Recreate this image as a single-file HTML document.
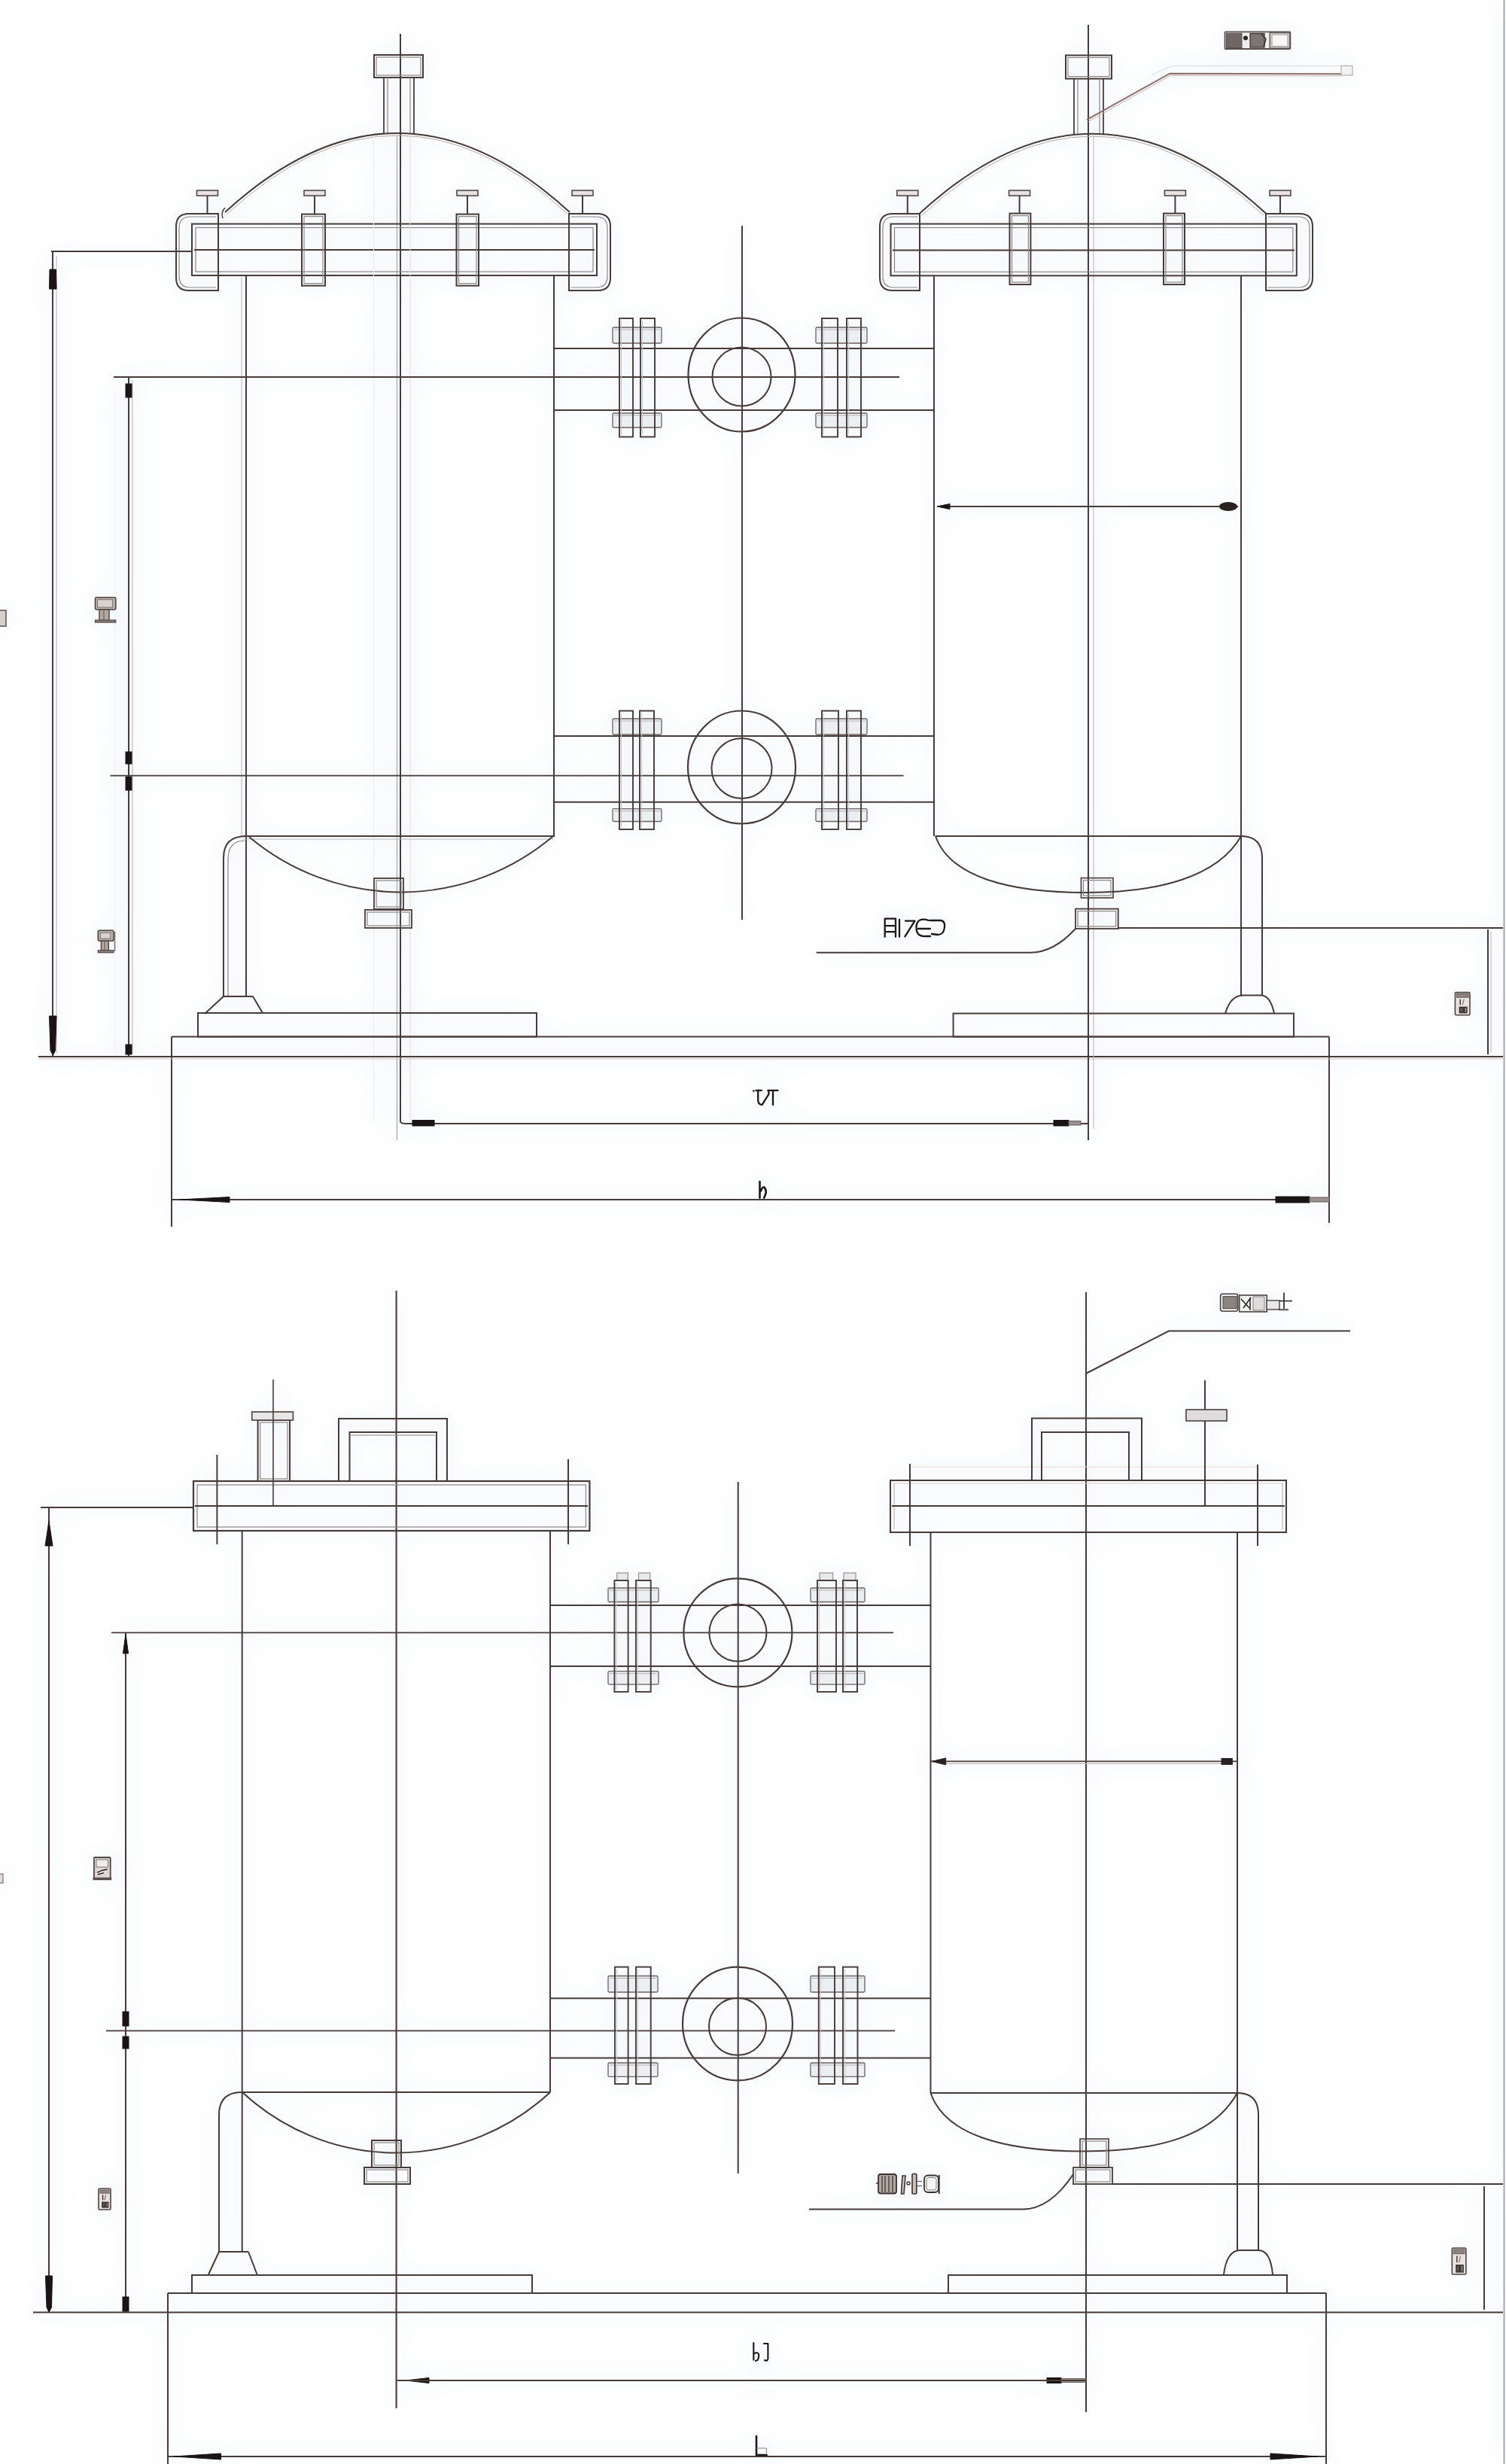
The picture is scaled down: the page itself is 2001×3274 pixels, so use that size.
<!DOCTYPE html>
<html><head><meta charset="utf-8"><title>Twin filter tanks drawing</title>
<style>
html,body{margin:0;padding:0;background:#ffffff;}
svg{display:block;}
</style></head>
<body>
<svg width="2001" height="3274" viewBox="0 0 2001 3274">
<rect x="0" y="0" width="2001" height="3274" fill="#ffffff"/>
<defs><filter id="glow" x="-5%" y="-5%" width="110%" height="110%"><feGaussianBlur stdDeviation="14"/></filter></defs>
<g filter="url(#glow)" opacity="0.11" stroke="#a9c2d6" stroke-width="14"><line x1="1998.5" y1="0" x2="1998.5" y2="3274" />
<line x1="532" y1="45" x2="532" y2="1490" />
<line x1="527.5" y1="180" x2="527.5" y2="1515" />
<path d="M532 1490 Q532 1493 540 1493" fill="none" />
<line x1="540" y1="1493" x2="1446" y2="1493" />
<rect x="497" y="73" width="65" height="30" rx="0" fill="none"/>
<rect x="500" y="76" width="59" height="24" rx="0" fill="none"/>
<line x1="510" y1="103" x2="510" y2="178" />
<line x1="550" y1="103" x2="550" y2="178" />
<line x1="515" y1="103" x2="515" y2="178" />
<line x1="545" y1="103" x2="545" y2="178" />
<path d="M299 282 Q528 72 757 282" fill="none" />
<path d="M302 284 Q528 76 754 284" fill="none" />
<path d="M296 290 Q293 282 299 276" fill="none" />
<rect x="255" y="297.5" width="538" height="68.5" rx="0" fill="none"/>
<rect x="260" y="302.5" width="528" height="58.5" rx="0" fill="none"/>
<line x1="258" y1="332" x2="790" y2="332" />
<path d="M290 284 L251 284 Q234 284 234 301 L234 369 Q234 386 251 386 L290 386 Z" fill="none" />
<path d="M287 288 L253 288 Q238 288 238 303 L238 367 Q238 382 253 382 L287 382" fill="none" />
<path d="M756 284 L794 284 Q811 284 811 301 L811 369 Q811 386 794 386 L756 386 Z" fill="none" />
<path d="M759 288 L792 288 Q807 288 807 303 L807 367 Q807 382 792 382 L759 382" fill="none" />
<rect x="261.5" y="253" width="28.0" height="7" rx="0" fill="#a9c2d6"/>
<line x1="275.5" y1="260" x2="275.5" y2="284" />
<rect x="404" y="253" width="28" height="7" rx="0" fill="#a9c2d6"/>
<line x1="418" y1="260" x2="418" y2="284" />
<rect x="607" y="253" width="28" height="7" rx="0" fill="#a9c2d6"/>
<line x1="621" y1="260" x2="621" y2="284" />
<rect x="760" y="253" width="28" height="7" rx="0" fill="#a9c2d6"/>
<line x1="774" y1="260" x2="774" y2="284" />
<rect x="401" y="284.6" width="31" height="95.0" rx="0" fill="none"/>
<rect x="404" y="287.6" width="25" height="89.0" rx="0" fill="none"/>
<rect x="606.5" y="284.6" width="29.5" height="95.0" rx="0" fill="none"/>
<rect x="609.5" y="287.6" width="23.5" height="89.0" rx="0" fill="none"/>
<line x1="327" y1="366" x2="327" y2="1324" />
<line x1="736" y1="366" x2="736" y2="1111" />
<line x1="321" y1="368" x2="321" y2="1111" />
<line x1="496.5" y1="180" x2="496.5" y2="1490" />
<line x1="545" y1="180" x2="545" y2="1490" />
<line x1="153" y1="520" x2="153" y2="1400" />
<line x1="323" y1="1111" x2="737" y2="1111" />
<line x1="323" y1="1115" x2="735" y2="1115" />
<path d="M331 1112 A313 313 0 0 0 735 1111" fill="none" />
<rect x="497" y="1167" width="39" height="41" rx="0" fill="none"/>
<rect x="500" y="1170" width="33" height="35" rx="0" fill="none"/>
<rect x="485" y="1209" width="62" height="24" rx="0" fill="none"/>
<rect x="488" y="1212" width="56" height="18" rx="0" fill="none"/>
<path d="M327 1111 Q297 1111 297 1140 L297 1324" fill="none" />
<path d="M325 1117 Q303 1117 303 1142 L303 1324" fill="none" />
<path d="M297 1324 L272 1347 M336 1324 L349 1346 M297 1324 L336 1324" fill="none" />
<rect x="263" y="1346" width="450" height="31.5" rx="0" fill="none"/>
<line x1="228" y1="1377.5" x2="1766" y2="1377.5" />
<line x1="228" y1="1377.5" x2="228" y2="1630" />
<line x1="1766" y1="1377.5" x2="1766" y2="1625" />
<line x1="51" y1="1404" x2="1997" y2="1404" />
<line x1="51" y1="1407" x2="1997" y2="1407" />
<line x1="68" y1="334" x2="255" y2="334" />
<line x1="70" y1="334" x2="70" y2="1403" />
<line x1="75" y1="340" x2="75" y2="1400" />
<path d="M65.5 1350 L75 1350 L73.5 1396 L70.5 1402 L67 1396 Z" fill="#a9c2d6" />
<path d="M66 358 L74.5 358 L75 384 L65.5 384 Z" fill="#a9c2d6" />
<line x1="171" y1="501" x2="171" y2="1403" />
<line x1="176" y1="505" x2="176" y2="1400" />
<rect x="167" y="510" width="8" height="18" rx="0" fill="#a9c2d6"/>
<rect x="167" y="999" width="8" height="16" rx="0" fill="#a9c2d6"/>
<rect x="167" y="1032" width="8" height="18" rx="0" fill="#a9c2d6"/>
<rect x="167" y="1388" width="8" height="13" rx="0" fill="#a9c2d6"/>
<rect x="126.5" y="793.7" width="27.30000000000001" height="16.299999999999955" rx="2" fill="#a9c2d6"/>
<rect x="129.5" y="796.7" width="20.30000000000001" height="10.299999999999955" rx="0" fill="#a9c2d6"/>
<rect x="131.96" y="810" width="13.104000000000013" height="14.5" rx="0" fill="#a9c2d6"/>
<line x1="137.966" y1="811" x2="137.966" y2="824" />
<rect x="126.5" y="824" width="27.30000000000001" height="3" rx="0" fill="#a9c2d6"/>
<rect x="130.3" y="1236.3" width="20.599999999999994" height="14.0" rx="2" fill="#a9c2d6"/>
<rect x="133.3" y="1239.3" width="13.599999999999994" height="8.0" rx="0" fill="#a9c2d6"/>
<rect x="134.42000000000002" y="1250.3" width="9.888000000000005" height="13.0" rx="0" fill="#a9c2d6"/>
<line x1="138.952" y1="1251.3" x2="138.952" y2="1262.8" />
<rect x="130.3" y="1262.8" width="20.599999999999994" height="3.0" rx="0" fill="#a9c2d6"/>
<line x1="152.5" y1="1238" x2="152.5" y2="1264" />
<rect x="-2" y="811" width="10" height="21" rx="0" fill="#a9c2d6"/>
<line x1="1446" y1="33" x2="1446" y2="1515" />
<line x1="1453" y1="180" x2="1453" y2="1500" />
<rect x="1416" y="73.5" width="61" height="31.099999999999994" rx="0" fill="none"/>
<rect x="1419" y="76.5" width="55" height="25.099999999999994" rx="0" fill="none"/>
<line x1="1427" y1="104.6" x2="1427" y2="178" />
<line x1="1466" y1="104.6" x2="1466" y2="178" />
<line x1="1432" y1="104.6" x2="1432" y2="178" />
<line x1="1461" y1="104.6" x2="1461" y2="178" />
<path d="M1222 283.6 Q1452 72 1682 283.6" fill="none" />
<path d="M1225 286 Q1452 76 1679 286" fill="none" />
<rect x="1183.5" y="297.5" width="539.3" height="68.80000000000001" rx="0" fill="none"/>
<rect x="1188.5" y="302.5" width="529.3" height="58.80000000000001" rx="0" fill="none"/>
<line x1="1186" y1="332.4" x2="1720" y2="332.4" />
<path d="M1222 284 L1186 284 Q1169 284 1169 301 L1169 369 Q1169 386 1186 386 L1222 386 Z" fill="none" />
<path d="M1219 288 L1188 288 Q1173 288 1173 303 L1173 367 Q1173 382 1188 382 L1219 382" fill="none" />
<path d="M1682 284 L1727 284 Q1744 284 1744 301 L1744 369 Q1744 386 1727 386 L1682 386 Z" fill="none" />
<path d="M1685 288 L1725 288 Q1740 288 1740 303 L1740 367 Q1740 382 1725 382 L1685 382" fill="none" />
<rect x="1191.8" y="253" width="28.0" height="7" rx="0" fill="#a9c2d6"/>
<line x1="1205.8" y1="260" x2="1205.8" y2="284" />
<rect x="1340.6" y="253" width="28.0" height="7" rx="0" fill="#a9c2d6"/>
<line x1="1354.6" y1="260" x2="1354.6" y2="284" />
<rect x="1547.4" y="253" width="28.0" height="7" rx="0" fill="#a9c2d6"/>
<line x1="1561.4" y1="260" x2="1561.4" y2="284" />
<rect x="1687" y="253" width="28" height="7" rx="0" fill="#a9c2d6"/>
<line x1="1701" y1="260" x2="1701" y2="284" />
<rect x="1341.5" y="283.6" width="27.90000000000009" height="94.39999999999998" rx="0" fill="none"/>
<rect x="1344.5" y="286.6" width="21.90000000000009" height="88.39999999999998" rx="0" fill="none"/>
<rect x="1546" y="283.6" width="28" height="94.39999999999998" rx="0" fill="none"/>
<rect x="1549" y="286.6" width="22" height="88.39999999999998" rx="0" fill="none"/>
<line x1="1241" y1="366" x2="1241" y2="1111" />
<line x1="1649" y1="366" x2="1649" y2="1324" />
<line x1="1243" y1="1111" x2="1649" y2="1111" />
<path d="M1243 1111 C1262 1165 1340 1186 1443 1186 C1540 1186 1618 1165 1649 1111" fill="none" />
<rect x="1436.5" y="1166.6" width="42.5" height="26.40000000000009" rx="0" fill="none"/>
<rect x="1439.5" y="1169.6" width="36.5" height="20.40000000000009" rx="0" fill="none"/>
<rect x="1429" y="1207.6" width="56.700000000000045" height="26.40000000000009" rx="0" fill="none"/>
<rect x="1432" y="1210.6" width="50.700000000000045" height="20.40000000000009" rx="0" fill="none"/>
<path d="M1649 1111 Q1677 1111 1677 1140 L1677 1322.6" fill="none" />
<path d="M1628 1346.6 Q1635 1322.6 1652 1322.6 L1675 1322.6 Q1688 1322.6 1693 1346.6" fill="none" />
<rect x="1266.6" y="1346.6" width="452.4000000000001" height="30.90000000000009" rx="0" fill="none"/>
<line x1="1245" y1="673" x2="1645" y2="673" />
<path d="M1262 669.5 L1262 676.5 L1245 673 Z" fill="#a9c2d6" />
<ellipse cx="1632" cy="673" rx="12" ry="6" fill="#a9c2d6"/>
<path d="M1084.7 1265.7 L1369 1265.7 Q1400 1265.7 1429 1234" fill="none" />
<line x1="1486" y1="1233" x2="1997" y2="1233" />
<line x1="1977" y1="1235" x2="1977" y2="1401" />
<line x1="1981" y1="1238" x2="1981" y2="1398" />
<rect x="1933.4" y="1318.6" width="19.59999999999991" height="30.200000000000045" rx="1.5" fill="#a9c2d6"/>
<rect x="1935.4" y="1320.6" width="15.599999999999909" height="4.6440000000000055" rx="0" fill="#a9c2d6"/>
<line x1="1940.26" y1="1327.6599999999999" x2="1940.26" y2="1335.21" />
<line x1="1945.16" y1="1327.6599999999999" x2="1943.2" y2="1335.21" />
<rect x="1939.28" y="1338.23" width="4.900000000000091" height="7.569999999999936" rx="0" fill="#a9c2d6"/>
<rect x="1945.5520000000001" y="1338.23" width="3.5279999999997926" height="7.569999999999936" rx="0" fill="#a9c2d6"/>
<path d="M1175.7 1244.8 L1175.7 1220.7 L1190 1220.7 L1190 1244.8 M1177 1230.2 L1189 1230.2 M1177 1238.2 L1189 1238.2 M1195 1222 L1195 1244.8 M1203 1223.6 L1215.5 1223.6 L1202.4 1244.4 M1234 1223 Q1219 1218 1217.5 1231 Q1217 1245 1230 1244 L1236 1244 M1220 1234 L1236 1234 M1236 1223 L1250 1223 Q1256 1224 1255 1232 Q1254 1242 1246 1242 L1238 1241" fill="none" stroke-linecap="round" stroke-linejoin="round"/>
<path d="M1444 159.2 L1554.2 97.7 L1782 98.2" fill="none" />
<path d="M1446 161.5 L1555 100.5 L1782 100.8" fill="none" />
<path d="M1530 100 L1557 87.5 L1782 87.5" fill="none" />
<rect x="1782" y="87.5" width="15" height="12.5" rx="0" fill="#a9c2d6"/>
<rect x="1627.5" y="42.4" width="86.90000000000009" height="22.6" rx="1" fill="#a9c2d6"/>
<rect x="1629.5" y="44.3" width="20.5" height="19.200000000000003" rx="0" fill="#a9c2d6"/>
<circle cx="1655" cy="50.5" r="3" fill="#a9c2d6"/>
<rect x="1661" y="44.5" width="19" height="18.5" rx="0" fill="#a9c2d6"/>
<path d="M1676 45 L1682 52 L1679 62" fill="none" />
<rect x="1687.3" y="43.5" width="26.299999999999955" height="20.5" rx="0" fill="#a9c2d6"/>
<rect x="1690" y="46" width="21" height="15.5" rx="0" fill="#a9c2d6"/>
<line x1="986" y1="300" x2="986" y2="1222" />
<line x1="737" y1="463" x2="1241" y2="463" />
<line x1="737" y1="545" x2="1241" y2="545" />
<line x1="151" y1="501" x2="1195" y2="501" />
<ellipse cx="985.5" cy="498" rx="71" ry="75.5" fill="none"/>
<ellipse cx="985.5" cy="500.5" rx="39" ry="39" fill="none"/>
<rect x="814" y="435" width="65" height="21" rx="1.5" fill="#a9c2d6"/>
<line x1="816" y1="438" x2="877" y2="438" />
<rect x="814" y="549" width="65" height="19" rx="1.5" fill="#a9c2d6"/>
<line x1="816" y1="552" x2="877" y2="552" />
<rect x="1084" y="435" width="68" height="21" rx="1.5" fill="#a9c2d6"/>
<line x1="1086" y1="438" x2="1150" y2="438" />
<rect x="1084" y="549" width="68" height="19" rx="1.5" fill="#a9c2d6"/>
<line x1="1086" y1="552" x2="1150" y2="552" />
<rect x="823" y="423" width="18" height="157.5" rx="0" fill="none"/>
<line x1="825.5" y1="426" x2="825.5" y2="577.5" />
<rect x="851" y="423" width="19" height="157.5" rx="0" fill="none"/>
<line x1="853.5" y1="426" x2="853.5" y2="577.5" />
<rect x="1092" y="423" width="21" height="157.5" rx="0" fill="none"/>
<line x1="1094.5" y1="426" x2="1094.5" y2="577.5" />
<rect x="1125" y="423" width="19" height="157.5" rx="0" fill="none"/>
<line x1="1127.5" y1="426" x2="1127.5" y2="577.5" />
<line x1="737" y1="978" x2="1241" y2="978" />
<line x1="737" y1="1065.7" x2="1241" y2="1065.7" />
<line x1="146.5" y1="1030.6" x2="1200.5" y2="1030.6" />
<ellipse cx="985.5" cy="1019.5" rx="71.5" ry="75" fill="none"/>
<ellipse cx="985.5" cy="1021" rx="40" ry="40" fill="none"/>
<rect x="814" y="955" width="65" height="21" rx="1.5" fill="#a9c2d6"/>
<line x1="816" y1="958" x2="877" y2="958" />
<rect x="814" y="1074.7" width="65" height="16.799999999999955" rx="1.5" fill="#a9c2d6"/>
<line x1="816" y1="1077.7" x2="877" y2="1077.7" />
<rect x="1084" y="955" width="68" height="21" rx="1.5" fill="#a9c2d6"/>
<line x1="1086" y1="958" x2="1150" y2="958" />
<rect x="1084" y="1074.7" width="68" height="16.799999999999955" rx="1.5" fill="#a9c2d6"/>
<line x1="1086" y1="1077.7" x2="1150" y2="1077.7" />
<rect x="823" y="944.5" width="18" height="157.5" rx="0" fill="none"/>
<line x1="825.5" y1="947.5" x2="825.5" y2="1099" />
<rect x="850" y="944.5" width="19" height="157.5" rx="0" fill="none"/>
<line x1="852.5" y1="947.5" x2="852.5" y2="1099" />
<rect x="1092" y="944.5" width="22" height="157.5" rx="0" fill="none"/>
<line x1="1094.5" y1="947.5" x2="1094.5" y2="1099" />
<rect x="1125" y="944.5" width="19" height="157.5" rx="0" fill="none"/>
<line x1="1127.5" y1="947.5" x2="1127.5" y2="1099" />
<line x1="1446" y1="1493" x2="1446" y2="1515" />
<rect x="548" y="1488.5" width="29" height="7.5" rx="0" fill="#a9c2d6"/>
<rect x="1400" y="1488.5" width="20" height="7.5" rx="0" fill="#a9c2d6"/>
<rect x="1420" y="1489.5" width="16" height="5.5" rx="0" fill="#a9c2d6"/>
<circle cx="1001.3" cy="1449.5" r="1.3" fill="#a9c2d6"/>
<path d="M1004.4 1448.8 L1011.9 1448.8 M1007.2 1448.8 L1007.2 1462 Q1007.5 1468 1012.6 1467.8 L1021.4 1454 L1021.4 1448.8 M1020.3 1448.8 L1033.6 1448.8 M1027 1448.8 L1027 1468" fill="none" stroke-linecap="round" stroke-linejoin="round"/>
<line x1="228" y1="1594" x2="1766" y2="1594" />
<path d="M305 1590.5 L305 1597.5 L239 1594 Z" fill="#a9c2d6" />
<rect x="1695" y="1590" width="45" height="8" rx="0" fill="#a9c2d6"/>
<rect x="1740" y="1591" width="26" height="6" rx="0" fill="#a9c2d6"/>
<path d="M1009.5 1570 L1009.5 1591.6 M1010.9 1582.6 Q1013 1577 1015 1577.3 Q1018.5 1580 1017.5 1586 L1015.2 1591.6" fill="none" stroke-linecap="round" stroke-linejoin="round"/>
<line x1="526.6" y1="1715" x2="526.6" y2="3200" />
<rect x="257" y="1968" width="526.4" height="66" rx="0" fill="none"/>
<rect x="262" y="1973" width="516.4" height="56" rx="0" fill="none"/>
<line x1="259" y1="2001" x2="781" y2="2001" />
<line x1="288.4" y1="1933" x2="288.4" y2="2052" />
<line x1="755" y1="1939" x2="755" y2="2052" />
<path d="M450 1968 L450 1885 L594 1885 L594 1968" fill="none" />
<path d="M464.5 1968 L464.5 1903 L580 1903 L580 1968" fill="none" />
<line x1="466" y1="1907" x2="578" y2="1907" />
<rect x="342.6" y="1887" width="42.39999999999998" height="81" rx="0" fill="none"/>
<rect x="345.6" y="1890" width="36.39999999999998" height="75" rx="0" fill="none"/>
<rect x="334.7" y="1876" width="54.69999999999999" height="11" rx="0" fill="#a9c2d6"/>
<line x1="363" y1="1833" x2="363" y2="2000" />
<line x1="321.7" y1="2034" x2="321.7" y2="2992" />
<line x1="731" y1="2034" x2="731" y2="2780" />
<line x1="321.7" y1="2780" x2="731" y2="2780" />
<path d="M322 2780 A300 300 0 0 0 731 2780" fill="none" />
<rect x="494" y="2844" width="39" height="36" rx="0" fill="none"/>
<rect x="497" y="2847" width="33" height="30" rx="0" fill="none"/>
<rect x="484" y="2880" width="61" height="22" rx="0" fill="none"/>
<rect x="487" y="2883" width="55" height="16" rx="0" fill="none"/>
<path d="M321.7 2780 Q291 2780 291 2810 L291 2992" fill="none" />
<path d="M291 2992 L277 3022 M341.5 3022 L330 2992 M291 2992 L330 2992" fill="none" />
<rect x="255" y="3023" width="452" height="24" rx="0" fill="none"/>
<line x1="223" y1="3047" x2="1762" y2="3047" />
<line x1="223" y1="3047" x2="223" y2="3274" />
<line x1="1762" y1="3047" x2="1762" y2="3274" />
<line x1="44" y1="3072.5" x2="1997" y2="3072.5" />
<line x1="54" y1="2003" x2="257" y2="2003" />
<line x1="65" y1="2003" x2="65" y2="3072" />
<path d="M60 2054 L70 2054 L65 2021 Z" fill="#a9c2d6" />
<path d="M60.5 3024 L69.5 3024 L68.5 3066 L65 3072 L62 3066 Z" fill="#a9c2d6" />
<line x1="167" y1="2169.4" x2="167" y2="3072" />
<path d="M163.5 2197 L170.5 2197 L167 2171 Z" fill="#a9c2d6" />
<rect x="163" y="2673" width="8" height="19" rx="0" fill="#a9c2d6"/>
<rect x="163" y="2706" width="8" height="16" rx="0" fill="#a9c2d6"/>
<rect x="163" y="3052" width="8" height="19" rx="0" fill="#a9c2d6"/>
<rect x="131" y="2908" width="16" height="28" rx="1.5" fill="#a9c2d6"/>
<rect x="133" y="2910" width="12" height="4.1599999999998545" rx="0" fill="#a9c2d6"/>
<line x1="136.6" y1="2916.4" x2="136.6" y2="2923.4" />
<line x1="140.6" y1="2916.4" x2="139.0" y2="2923.4" />
<rect x="135.8" y="2926.2" width="4.0" height="6.800000000000182" rx="0" fill="#a9c2d6"/>
<rect x="140.92" y="2926.2" width="2.880000000000024" height="6.800000000000182" rx="0" fill="#a9c2d6"/>
<rect x="125" y="2468" width="21.69999999999999" height="28.699999999999818" rx="1" fill="#a9c2d6"/>
<rect x="128" y="2471" width="15.699999999999989" height="9.914999999999964" rx="0" fill="#a9c2d6"/>
<path d="M129 2488.0899999999997 L135.85 2485.22 L142.7 2483.785 M130 2490.7 L138.01999999999998 2488.6639999999998" fill="none" />
<rect x="124" y="2495.2" width="23.69999999999999" height="2.5" rx="0" fill="#a9c2d6"/>
<rect x="-2" y="2490" width="6" height="12" rx="0" fill="#a9c2d6"/>
<line x1="1443" y1="1717" x2="1443" y2="3205" />
<path d="M1443 1825 L1553 1768.5 L1794 1768.5" fill="none" />
<rect x="1621.6" y="1719.2" width="23.100000000000136" height="23.09999999999991" rx="3" fill="#a9c2d6"/>
<rect x="1625" y="1722.7" width="18" height="16.0" rx="0" fill="#a9c2d6"/>
<rect x="1646.7" y="1721" width="36.59999999999991" height="22" rx="0" fill="#a9c2d6"/>
<path d="M1649 1726 L1660 1738 M1652 1738 L1662 1724 M1661 1724 L1661 1741" fill="none" />
<rect x="1665" y="1723" width="15" height="18" rx="0" fill="#a9c2d6"/>
<rect x="1683" y="1728" width="17" height="12" rx="0" fill="#a9c2d6"/>
<line x1="1706" y1="1717.6" x2="1706" y2="1739" />
<line x1="1700" y1="1728.6" x2="1717" y2="1728.6" />
<line x1="1699" y1="1740.3" x2="1712" y2="1740.3" />
<rect x="1183" y="1967" width="526" height="69" rx="0" fill="none"/>
<line x1="1188" y1="1971" x2="1188" y2="2032" />
<line x1="1704" y1="1971" x2="1704" y2="2032" />
<line x1="1188" y1="1971" x2="1704" y2="1971" />
<line x1="1210" y1="1949" x2="1670" y2="1949" />
<line x1="1185" y1="2001" x2="1707" y2="2001" />
<line x1="1209" y1="1945" x2="1209" y2="2054" />
<line x1="1671" y1="1946" x2="1671" y2="2054" />
<path d="M1371 1967 L1371 1884.5 L1517 1884.5 L1517 1967" fill="none" />
<path d="M1384 1967 L1384 1903 L1500 1903 L1500 1967" fill="none" />
<line x1="1601" y1="1834" x2="1601" y2="2001" />
<rect x="1576" y="1873" width="54" height="15" rx="0" fill="#a9c2d6"/>
<line x1="1236.5" y1="2036" x2="1236.5" y2="2781" />
<line x1="1644" y1="2036" x2="1644" y2="2990" />
<line x1="1236.5" y1="2781" x2="1644" y2="2781" />
<path d="M1236.5 2781 C1255 2835 1330 2858.5 1440 2858.5 C1540 2858.5 1612 2838 1644 2781" fill="none" />
<line x1="1237" y1="2340.4" x2="1643" y2="2340.4" />
<line x1="1256" y1="2343.5" x2="1623" y2="2343.5" />
<path d="M1238 2340.4 L1256.7 2336 L1256.7 2345 Z" fill="#a9c2d6" />
<rect x="1623" y="2336.5" width="14.299999999999955" height="8.0" rx="0" fill="#a9c2d6"/>
<rect x="1435" y="2842" width="38" height="38" rx="0" fill="none"/>
<rect x="1438" y="2845" width="32" height="32" rx="0" fill="none"/>
<rect x="1426" y="2880" width="52" height="22" rx="0" fill="none"/>
<rect x="1429" y="2883" width="46" height="16" rx="0" fill="none"/>
<path d="M1075 2935.5 L1359 2935.5 Q1395 2935.5 1426 2889" fill="none" />
<line x1="1478" y1="2902" x2="1997" y2="2902" />
<path d="M1644 2781 Q1672 2781 1672 2810 L1672 2990" fill="none" />
<path d="M1626 3022 Q1630 2990 1648 2990 L1672 2990 Q1688 2990 1691 3022" fill="none" />
<rect x="1260" y="3023" width="450" height="24" rx="0" fill="none"/>
<line x1="1972" y1="2905" x2="1972" y2="3069" />
<rect x="1929.3" y="2987" width="18.600000000000136" height="35" rx="1.5" fill="#a9c2d6"/>
<rect x="1931.3" y="2989" width="14.600000000000136" height="5.699999999999818" rx="0" fill="#a9c2d6"/>
<line x1="1935.81" y1="2997.5" x2="1935.81" y2="3006.25" />
<line x1="1940.46" y1="2997.5" x2="1938.6" y2="3006.25" />
<rect x="1934.88" y="3009.75" width="4.649999999999864" height="9.25" rx="0" fill="#a9c2d6"/>
<rect x="1940.832" y="3009.75" width="3.3479999999999563" height="9.25" rx="0" fill="#a9c2d6"/>
<rect x="1167" y="2889" width="24" height="25.5" rx="3" fill="#a9c2d6"/>
<line x1="1172" y1="2891" x2="1172" y2="2913" />
<line x1="1176" y1="2891" x2="1176" y2="2913" />
<line x1="1181" y1="2891" x2="1181" y2="2913" />
<line x1="1186" y1="2891" x2="1186" y2="2913" />
<line x1="1164" y1="2901" x2="1167" y2="2901" />
<path d="M1199 2891 L1203 2891 L1201 2915 L1197.5 2915 Z" fill="#a9c2d6" />
<circle cx="1207" cy="2901" r="2" fill="none"/>
<rect x="1212" y="2888.5" width="5.7999999999999545" height="26.5" rx="1" fill="#a9c2d6"/>
<line x1="1218" y1="2898.5" x2="1225" y2="2898.5" />
<line x1="1218" y1="2904.5" x2="1225" y2="2904.5" />
<rect x="1228" y="2890.5" width="19" height="22.5" rx="5" fill="#a9c2d6"/>
<rect x="1231" y="2893.5" width="13" height="16.5" rx="3" fill="none"/>
<line x1="1247.7" y1="2890" x2="1247.7" y2="2915" />
<rect x="819.8" y="2090" width="14.600000000000023" height="10" rx="0" fill="#a9c2d6"/>
<rect x="848.5" y="2090" width="15.200000000000045" height="10" rx="0" fill="#a9c2d6"/>
<rect x="1089" y="2090" width="17.59999999999991" height="10" rx="0" fill="#a9c2d6"/>
<rect x="1121" y="2090" width="16" height="10" rx="0" fill="#a9c2d6"/>
<line x1="980.7" y1="1969" x2="980.7" y2="2888" />
<line x1="730.5" y1="2133" x2="1236.6" y2="2133" />
<line x1="730.5" y1="2214" x2="1236.6" y2="2214" />
<line x1="148" y1="2169.4" x2="1187" y2="2169.4" />
<ellipse cx="980.4" cy="2169.4" rx="72" ry="72" fill="none"/>
<ellipse cx="980.4" cy="2169.4" rx="38" ry="38" fill="none"/>
<rect x="808" y="2110" width="67" height="18.5" rx="1.5" fill="#a9c2d6"/>
<line x1="810" y1="2113" x2="873" y2="2113" />
<rect x="808" y="2220.7" width="67" height="17.5" rx="1.5" fill="#a9c2d6"/>
<line x1="810" y1="2223.7" x2="873" y2="2223.7" />
<rect x="1077" y="2110" width="72" height="18.5" rx="1.5" fill="#a9c2d6"/>
<line x1="1079" y1="2113" x2="1147" y2="2113" />
<rect x="1077" y="2220.7" width="72" height="17.5" rx="1.5" fill="#a9c2d6"/>
<line x1="1079" y1="2223.7" x2="1147" y2="2223.7" />
<rect x="816.4" y="2100" width="18.200000000000045" height="148" rx="0" fill="none"/>
<line x1="818.9" y1="2103" x2="818.9" y2="2245" />
<rect x="845" y="2100" width="19.700000000000045" height="148" rx="0" fill="none"/>
<line x1="847.5" y1="2103" x2="847.5" y2="2245" />
<rect x="1086" y="2100" width="25" height="148" rx="0" fill="none"/>
<line x1="1088.5" y1="2103" x2="1088.5" y2="2245" />
<rect x="1120" y="2100" width="19" height="148" rx="0" fill="none"/>
<line x1="1122.5" y1="2103" x2="1122.5" y2="2245" />
<line x1="730.5" y1="2655.3" x2="1236.6" y2="2655.3" />
<line x1="730.5" y1="2734.5" x2="1236.6" y2="2734.5" />
<line x1="141" y1="2698.4" x2="1189" y2="2698.4" />
<ellipse cx="980" cy="2689" rx="73" ry="75.3" fill="none"/>
<ellipse cx="980" cy="2692.8" rx="38" ry="38" fill="none"/>
<rect x="808" y="2625.5" width="66" height="21.5" rx="1.5" fill="#a9c2d6"/>
<line x1="810" y1="2628.5" x2="872" y2="2628.5" />
<rect x="808" y="2741" width="66" height="18.40000000000009" rx="1.5" fill="#a9c2d6"/>
<line x1="810" y1="2744" x2="872" y2="2744" />
<rect x="1077" y="2625.5" width="72" height="21.5" rx="1.5" fill="#a9c2d6"/>
<line x1="1079" y1="2628.5" x2="1147" y2="2628.5" />
<rect x="1077" y="2741" width="72" height="18.40000000000009" rx="1.5" fill="#a9c2d6"/>
<line x1="1079" y1="2744" x2="1147" y2="2744" />
<rect x="817" y="2613.6" width="17.600000000000023" height="155.4000000000001" rx="0" fill="none"/>
<line x1="819.5" y1="2616.6" x2="819.5" y2="2766" />
<rect x="845" y="2613.6" width="19.700000000000045" height="155.4000000000001" rx="0" fill="none"/>
<line x1="847.5" y1="2616.6" x2="847.5" y2="2766" />
<rect x="1087.8" y="2613.6" width="21.200000000000045" height="155.4000000000001" rx="0" fill="none"/>
<line x1="1090.3" y1="2616.6" x2="1090.3" y2="2766" />
<rect x="1120" y="2613.6" width="19.5" height="155.4000000000001" rx="0" fill="none"/>
<line x1="1122.5" y1="2616.6" x2="1122.5" y2="2766" />
<path d="M539 3163 L570 3159.5 L570 3166.5 Z" fill="#a9c2d6" />
<rect x="1391" y="3159.5" width="19" height="7.0" rx="0" fill="#a9c2d6"/>
<rect x="1410" y="3160.5" width="31" height="5.0" rx="0" fill="#a9c2d6"/>
<line x1="528" y1="3163" x2="1443" y2="3163" />
<path d="M1001.3 3113 L1001.3 3135.7 M1001.5 3128 Q1006 3124 1008 3128 Q1009 3136 1004 3137 M1015 3114 L1020.4 3114 L1020.4 3134 Q1020 3138 1016 3136" fill="none" stroke-linecap="round" stroke-linejoin="round"/>
<line x1="223" y1="3264" x2="1762" y2="3264" />
<path d="M293.5 3260 L293.5 3268 L231 3264 Z" fill="#a9c2d6" />
<path d="M1688 3260 L1688 3268 L1751 3264 Z" fill="#a9c2d6" />
<path d="M1005 3237 L1005 3262 L1018.7 3262" fill="none" stroke-linecap="round" stroke-linejoin="round"/>
<path d="M1005 3253 L1018.5 3253 L1018.5 3262" fill="none" /></g>
<line x1="1998.5" y1="0" x2="1998.5" y2="3274" stroke="#a9a6a6" stroke-width="2" />
<line x1="532" y1="45" x2="532" y2="1490" stroke="#463b38" stroke-width="2.0" />
<line x1="527.5" y1="180" x2="527.5" y2="1515" stroke="#a9a4a4" stroke-width="1.2" />
<path d="M532 1490 Q532 1493 540 1493" fill="none" stroke="#463b38" stroke-width="2" />
<line x1="540" y1="1493" x2="1446" y2="1493" stroke="#463b38" stroke-width="2" />
<rect x="497" y="73" width="65" height="30" rx="0" fill="none" stroke="#463b38" stroke-width="2"/>
<rect x="500" y="76" width="59" height="24" rx="0" fill="none" stroke="#8d8585" stroke-width="1.2"/>
<line x1="510" y1="103" x2="510" y2="178" stroke="#463b38" stroke-width="1.8" />
<line x1="550" y1="103" x2="550" y2="178" stroke="#463b38" stroke-width="1.8" />
<line x1="515" y1="103" x2="515" y2="178" stroke="#8d8585" stroke-width="1.2" />
<line x1="545" y1="103" x2="545" y2="178" stroke="#8d8585" stroke-width="1.2" />
<path d="M299 282 Q528 72 757 282" fill="none" stroke="#463b38" stroke-width="2.0" />
<path d="M302 284 Q528 76 754 284" fill="none" stroke="#b7a9a5" stroke-width="1" />
<path d="M296 290 Q293 282 299 276" fill="none" stroke="#463b38" stroke-width="1.5" />
<rect x="255" y="297.5" width="538" height="68.5" rx="0" fill="none" stroke="#463b38" stroke-width="2"/>
<rect x="260" y="302.5" width="528" height="58.5" rx="0" fill="none" stroke="#8d8585" stroke-width="1.2"/>
<line x1="258" y1="332" x2="790" y2="332" stroke="#463b38" stroke-width="2" />
<path d="M290 284 L251 284 Q234 284 234 301 L234 369 Q234 386 251 386 L290 386 Z" fill="none" stroke="#463b38" stroke-width="2" />
<path d="M287 288 L253 288 Q238 288 238 303 L238 367 Q238 382 253 382 L287 382" fill="none" stroke="#8d8585" stroke-width="1.2" />
<path d="M756 284 L794 284 Q811 284 811 301 L811 369 Q811 386 794 386 L756 386 Z" fill="none" stroke="#463b38" stroke-width="2" />
<path d="M759 288 L792 288 Q807 288 807 303 L807 367 Q807 382 792 382 L759 382" fill="none" stroke="#8d8585" stroke-width="1.2" />
<rect x="261.5" y="253" width="28.0" height="7" rx="0" fill="#e7e3e3" stroke="#4a4040" stroke-width="1.5"/>
<line x1="275.5" y1="260" x2="275.5" y2="284" stroke="#463b38" stroke-width="2" />
<rect x="404" y="253" width="28" height="7" rx="0" fill="#e7e3e3" stroke="#4a4040" stroke-width="1.5"/>
<line x1="418" y1="260" x2="418" y2="284" stroke="#463b38" stroke-width="2" />
<rect x="607" y="253" width="28" height="7" rx="0" fill="#e7e3e3" stroke="#4a4040" stroke-width="1.5"/>
<line x1="621" y1="260" x2="621" y2="284" stroke="#463b38" stroke-width="2" />
<rect x="760" y="253" width="28" height="7" rx="0" fill="#e7e3e3" stroke="#4a4040" stroke-width="1.5"/>
<line x1="774" y1="260" x2="774" y2="284" stroke="#463b38" stroke-width="2" />
<rect x="401" y="284.6" width="31" height="95.0" rx="0" fill="none" stroke="#463b38" stroke-width="2"/>
<rect x="404" y="287.6" width="25" height="89.0" rx="0" fill="none" stroke="#8d8585" stroke-width="1.2"/>
<rect x="606.5" y="284.6" width="29.5" height="95.0" rx="0" fill="none" stroke="#463b38" stroke-width="2"/>
<rect x="609.5" y="287.6" width="23.5" height="89.0" rx="0" fill="none" stroke="#8d8585" stroke-width="1.2"/>
<line x1="327" y1="366" x2="327" y2="1324" stroke="#463b38" stroke-width="2" />
<line x1="736" y1="366" x2="736" y2="1111" stroke="#463b38" stroke-width="2" />
<line x1="321" y1="368" x2="321" y2="1111" stroke="#b9b3b3" stroke-width="1" />
<line x1="496.5" y1="180" x2="496.5" y2="1490" stroke="#efeaea" stroke-width="1" />
<line x1="545" y1="180" x2="545" y2="1490" stroke="#eedcd6" stroke-width="1" />
<line x1="153" y1="520" x2="153" y2="1400" stroke="#eeeeee" stroke-width="1" />
<line x1="323" y1="1111" x2="737" y2="1111" stroke="#463b38" stroke-width="2" />
<line x1="323" y1="1115" x2="735" y2="1115" stroke="#b9b3b3" stroke-width="1" />
<path d="M331 1112 A313 313 0 0 0 735 1111" fill="none" stroke="#463b38" stroke-width="2.0" />
<rect x="497" y="1167" width="39" height="41" rx="0" fill="none" stroke="#463b38" stroke-width="1.8"/>
<rect x="500" y="1170" width="33" height="35" rx="0" fill="none" stroke="#8d8585" stroke-width="1.2"/>
<rect x="485" y="1209" width="62" height="24" rx="0" fill="none" stroke="#463b38" stroke-width="1.8"/>
<rect x="488" y="1212" width="56" height="18" rx="0" fill="none" stroke="#8d8585" stroke-width="1.2"/>
<path d="M327 1111 Q297 1111 297 1140 L297 1324" fill="none" stroke="#463b38" stroke-width="2" />
<path d="M325 1117 Q303 1117 303 1142 L303 1324" fill="none" stroke="#8d8585" stroke-width="1.2" />
<path d="M297 1324 L272 1347 M336 1324 L349 1346 M297 1324 L336 1324" fill="none" stroke="#463b38" stroke-width="2" />
<rect x="263" y="1346" width="450" height="31.5" rx="0" fill="none" stroke="#463b38" stroke-width="2"/>
<line x1="228" y1="1377.5" x2="1766" y2="1377.5" stroke="#463b38" stroke-width="2" />
<line x1="228" y1="1377.5" x2="228" y2="1630" stroke="#463b38" stroke-width="2" />
<line x1="1766" y1="1377.5" x2="1766" y2="1625" stroke="#463b38" stroke-width="2" />
<line x1="51" y1="1404" x2="1997" y2="1404" stroke="#463b38" stroke-width="2" />
<line x1="51" y1="1407" x2="1997" y2="1407" stroke="#d6b8ae" stroke-width="1" />
<line x1="68" y1="334" x2="255" y2="334" stroke="#463b38" stroke-width="2" />
<line x1="70" y1="334" x2="70" y2="1403" stroke="#463b38" stroke-width="2.0" />
<line x1="75" y1="340" x2="75" y2="1400" stroke="#b9b3b3" stroke-width="1" />
<path d="M65.5 1350 L75 1350 L73.5 1396 L70.5 1402 L67 1396 Z" fill="#1a1414" stroke="#1a1414" stroke-width="1" />
<path d="M66 358 L74.5 358 L75 384 L65.5 384 Z" fill="#1a1414" stroke="#1a1414" stroke-width="1" />
<line x1="171" y1="501" x2="171" y2="1403" stroke="#463b38" stroke-width="2" />
<line x1="176" y1="505" x2="176" y2="1400" stroke="#b9b3b3" stroke-width="1" />
<rect x="167" y="510" width="8" height="18" rx="0" fill="#1a1414" stroke="#1a1414" stroke-width="1"/>
<rect x="167" y="999" width="8" height="16" rx="0" fill="#1a1414" stroke="#1a1414" stroke-width="1"/>
<rect x="167" y="1032" width="8" height="18" rx="0" fill="#1a1414" stroke="#1a1414" stroke-width="1"/>
<rect x="167" y="1388" width="8" height="13" rx="0" fill="#1a1414" stroke="#1a1414" stroke-width="1"/>
<rect x="126.5" y="793.7" width="27.30000000000001" height="16.299999999999955" rx="2" fill="#bdb3ae" stroke="#4e4440" stroke-width="1.6"/>
<rect x="129.5" y="796.7" width="20.30000000000001" height="10.299999999999955" rx="0" fill="#d8d2cf" stroke="#7a706b" stroke-width="1"/>
<rect x="131.96" y="810" width="13.104000000000013" height="14.5" rx="0" fill="#b3a7a2" stroke="#4e4440" stroke-width="1.4"/>
<line x1="137.966" y1="811" x2="137.966" y2="824" stroke="#6a5f5a" stroke-width="1.2" />
<rect x="126.5" y="824" width="27.30000000000001" height="3" rx="0" fill="#8f8580" stroke="#4e4440" stroke-width="1.2"/>
<rect x="130.3" y="1236.3" width="20.599999999999994" height="14.0" rx="2" fill="#bdb3ae" stroke="#4e4440" stroke-width="1.6"/>
<rect x="133.3" y="1239.3" width="13.599999999999994" height="8.0" rx="0" fill="#d8d2cf" stroke="#7a706b" stroke-width="1"/>
<rect x="134.42000000000002" y="1250.3" width="9.888000000000005" height="13.0" rx="0" fill="#b3a7a2" stroke="#4e4440" stroke-width="1.4"/>
<line x1="138.952" y1="1251.3" x2="138.952" y2="1262.8" stroke="#6a5f5a" stroke-width="1.2" />
<rect x="130.3" y="1262.8" width="20.599999999999994" height="3.0" rx="0" fill="#8f8580" stroke="#4e4440" stroke-width="1.2"/>
<line x1="152.5" y1="1238" x2="152.5" y2="1264" stroke="#7a706b" stroke-width="1.5" />
<rect x="-2" y="811" width="10" height="21" rx="0" fill="#d6d0cd" stroke="#5a5050" stroke-width="1.5"/>
<line x1="1446" y1="33" x2="1446" y2="1515" stroke="#463b38" stroke-width="2.0" />
<line x1="1453" y1="180" x2="1453" y2="1500" stroke="#b9b3b3" stroke-width="1" />
<rect x="1416" y="73.5" width="61" height="31.099999999999994" rx="0" fill="none" stroke="#463b38" stroke-width="2"/>
<rect x="1419" y="76.5" width="55" height="25.099999999999994" rx="0" fill="none" stroke="#8d8585" stroke-width="1.2"/>
<line x1="1427" y1="104.6" x2="1427" y2="178" stroke="#463b38" stroke-width="1.8" />
<line x1="1466" y1="104.6" x2="1466" y2="178" stroke="#463b38" stroke-width="1.8" />
<line x1="1432" y1="104.6" x2="1432" y2="178" stroke="#8d8585" stroke-width="1.2" />
<line x1="1461" y1="104.6" x2="1461" y2="178" stroke="#8d8585" stroke-width="1.2" />
<path d="M1222 283.6 Q1452 72 1682 283.6" fill="none" stroke="#463b38" stroke-width="2.0" />
<path d="M1225 286 Q1452 76 1679 286" fill="none" stroke="#b7a9a5" stroke-width="1" />
<rect x="1183.5" y="297.5" width="539.3" height="68.80000000000001" rx="0" fill="none" stroke="#463b38" stroke-width="2"/>
<rect x="1188.5" y="302.5" width="529.3" height="58.80000000000001" rx="0" fill="none" stroke="#8d8585" stroke-width="1.2"/>
<line x1="1186" y1="332.4" x2="1720" y2="332.4" stroke="#463b38" stroke-width="2" />
<path d="M1222 284 L1186 284 Q1169 284 1169 301 L1169 369 Q1169 386 1186 386 L1222 386 Z" fill="none" stroke="#463b38" stroke-width="2" />
<path d="M1219 288 L1188 288 Q1173 288 1173 303 L1173 367 Q1173 382 1188 382 L1219 382" fill="none" stroke="#8d8585" stroke-width="1.2" />
<path d="M1682 284 L1727 284 Q1744 284 1744 301 L1744 369 Q1744 386 1727 386 L1682 386 Z" fill="none" stroke="#463b38" stroke-width="2" />
<path d="M1685 288 L1725 288 Q1740 288 1740 303 L1740 367 Q1740 382 1725 382 L1685 382" fill="none" stroke="#8d8585" stroke-width="1.2" />
<rect x="1191.8" y="253" width="28.0" height="7" rx="0" fill="#e7e3e3" stroke="#4a4040" stroke-width="1.5"/>
<line x1="1205.8" y1="260" x2="1205.8" y2="284" stroke="#463b38" stroke-width="2" />
<rect x="1340.6" y="253" width="28.0" height="7" rx="0" fill="#e7e3e3" stroke="#4a4040" stroke-width="1.5"/>
<line x1="1354.6" y1="260" x2="1354.6" y2="284" stroke="#463b38" stroke-width="2" />
<rect x="1547.4" y="253" width="28.0" height="7" rx="0" fill="#e7e3e3" stroke="#4a4040" stroke-width="1.5"/>
<line x1="1561.4" y1="260" x2="1561.4" y2="284" stroke="#463b38" stroke-width="2" />
<rect x="1687" y="253" width="28" height="7" rx="0" fill="#e7e3e3" stroke="#4a4040" stroke-width="1.5"/>
<line x1="1701" y1="260" x2="1701" y2="284" stroke="#463b38" stroke-width="2" />
<rect x="1341.5" y="283.6" width="27.90000000000009" height="94.39999999999998" rx="0" fill="none" stroke="#463b38" stroke-width="2"/>
<rect x="1344.5" y="286.6" width="21.90000000000009" height="88.39999999999998" rx="0" fill="none" stroke="#8d8585" stroke-width="1.2"/>
<rect x="1546" y="283.6" width="28" height="94.39999999999998" rx="0" fill="none" stroke="#463b38" stroke-width="2"/>
<rect x="1549" y="286.6" width="22" height="88.39999999999998" rx="0" fill="none" stroke="#8d8585" stroke-width="1.2"/>
<line x1="1241" y1="366" x2="1241" y2="1111" stroke="#463b38" stroke-width="2" />
<line x1="1649" y1="366" x2="1649" y2="1324" stroke="#463b38" stroke-width="2" />
<line x1="1243" y1="1111" x2="1649" y2="1111" stroke="#463b38" stroke-width="2" />
<path d="M1243 1111 C1262 1165 1340 1186 1443 1186 C1540 1186 1618 1165 1649 1111" fill="none" stroke="#463b38" stroke-width="2" />
<rect x="1436.5" y="1166.6" width="42.5" height="26.40000000000009" rx="0" fill="none" stroke="#463b38" stroke-width="1.6"/>
<rect x="1439.5" y="1169.6" width="36.5" height="20.40000000000009" rx="0" fill="none" stroke="#8d8585" stroke-width="1.2"/>
<rect x="1429" y="1207.6" width="56.700000000000045" height="26.40000000000009" rx="0" fill="none" stroke="#463b38" stroke-width="1.8"/>
<rect x="1432" y="1210.6" width="50.700000000000045" height="20.40000000000009" rx="0" fill="none" stroke="#8d8585" stroke-width="1.2"/>
<path d="M1649 1111 Q1677 1111 1677 1140 L1677 1322.6" fill="none" stroke="#463b38" stroke-width="2" />
<path d="M1628 1346.6 Q1635 1322.6 1652 1322.6 L1675 1322.6 Q1688 1322.6 1693 1346.6" fill="none" stroke="#463b38" stroke-width="2" />
<rect x="1266.6" y="1346.6" width="452.4000000000001" height="30.90000000000009" rx="0" fill="none" stroke="#463b38" stroke-width="2"/>
<line x1="1245" y1="673" x2="1645" y2="673" stroke="#463b38" stroke-width="2" />
<path d="M1262 669.5 L1262 676.5 L1245 673 Z" fill="#1a1414" stroke="#1a1414" stroke-width="1" />
<ellipse cx="1632" cy="673" rx="12" ry="6" fill="#2a2222"/>
<path d="M1084.7 1265.7 L1369 1265.7 Q1400 1265.7 1429 1234" fill="none" stroke="#463b38" stroke-width="2" />
<line x1="1486" y1="1233" x2="1997" y2="1233" stroke="#463b38" stroke-width="2" />
<line x1="1977" y1="1235" x2="1977" y2="1401" stroke="#463b38" stroke-width="2" />
<line x1="1981" y1="1238" x2="1981" y2="1398" stroke="#b9b3b3" stroke-width="1" />
<rect x="1933.4" y="1318.6" width="19.59999999999991" height="30.200000000000045" rx="1.5" fill="#e6e2e0" stroke="#4e4440" stroke-width="1.6"/>
<rect x="1935.4" y="1320.6" width="15.599999999999909" height="4.6440000000000055" rx="0" fill="#8d8480" stroke="#6a5f5a" stroke-width="1"/>
<line x1="1940.26" y1="1327.6599999999999" x2="1940.26" y2="1335.21" stroke="#3a3030" stroke-width="1.4" />
<line x1="1945.16" y1="1327.6599999999999" x2="1943.2" y2="1335.21" stroke="#9a6a60" stroke-width="1.2" />
<rect x="1939.28" y="1338.23" width="4.900000000000091" height="7.569999999999936" rx="0" fill="#5a5250" stroke="#2a2222" stroke-width="1.2"/>
<rect x="1945.5520000000001" y="1338.23" width="3.5279999999997926" height="7.569999999999936" rx="0" fill="#8a8280" stroke="#2a2222" stroke-width="1.2"/>
<path d="M1175.7 1244.8 L1175.7 1220.7 L1190 1220.7 L1190 1244.8 M1177 1230.2 L1189 1230.2 M1177 1238.2 L1189 1238.2 M1195 1222 L1195 1244.8 M1203 1223.6 L1215.5 1223.6 L1202.4 1244.4 M1234 1223 Q1219 1218 1217.5 1231 Q1217 1245 1230 1244 L1236 1244 M1220 1234 L1236 1234 M1236 1223 L1250 1223 Q1256 1224 1255 1232 Q1254 1242 1246 1242 L1238 1241" fill="none" stroke="#1c1616" stroke-width="2.3" stroke-linecap="round" stroke-linejoin="round"/>
<path d="M1444 159.2 L1554.2 97.7 L1782 98.2" fill="none" stroke="#8a706a" stroke-width="2" />
<path d="M1446 161.5 L1555 100.5 L1782 100.8" fill="none" stroke="#c9b5b0" stroke-width="1" />
<path d="M1530 100 L1557 87.5 L1782 87.5" fill="none" stroke="#dadada" stroke-width="1" />
<rect x="1782" y="87.5" width="15" height="12.5" rx="0" fill="#f2f2f2" stroke="#b8b0ae" stroke-width="1.2"/>
<rect x="1627.5" y="42.4" width="86.90000000000009" height="22.6" rx="1" fill="#eeeeee" stroke="#5a5050" stroke-width="1.8"/>
<rect x="1629.5" y="44.3" width="20.5" height="19.200000000000003" rx="0" fill="#6e6764" stroke="#5a5050" stroke-width="1"/>
<circle cx="1655" cy="50.5" r="3" fill="#2a2222"/>
<rect x="1661" y="44.5" width="19" height="18.5" rx="0" fill="#7d7573" stroke="#3a3030" stroke-width="1.2"/>
<path d="M1676 45 L1682 52 L1679 62" fill="none" stroke="#3a3030" stroke-width="1.5" />
<rect x="1687.3" y="43.5" width="26.299999999999955" height="20.5" rx="0" fill="#e4e0de" stroke="#6a6060" stroke-width="1.6"/>
<rect x="1690" y="46" width="21" height="15.5" rx="0" fill="#f6f6f6" stroke="#9a9090" stroke-width="1"/>
<line x1="986" y1="300" x2="986" y2="1222" stroke="#463b38" stroke-width="2.0" />
<line x1="737" y1="463" x2="1241" y2="463" stroke="#463b38" stroke-width="2" />
<line x1="737" y1="545" x2="1241" y2="545" stroke="#463b38" stroke-width="2" />
<line x1="151" y1="501" x2="1195" y2="501" stroke="#463b38" stroke-width="1.9" />
<ellipse cx="985.5" cy="498" rx="71" ry="75.5" fill="none" stroke="#463b38" stroke-width="2.2"/>
<ellipse cx="985.5" cy="500.5" rx="39" ry="39" fill="none" stroke="#463b38" stroke-width="2.0"/>
<rect x="814" y="435" width="65" height="21" rx="1.5" fill="#eceff1" stroke="#6a6262" stroke-width="1.3"/>
<line x1="816" y1="438" x2="877" y2="438" stroke="#b5b0b0" stroke-width="1" />
<rect x="814" y="549" width="65" height="19" rx="1.5" fill="#eceff1" stroke="#6a6262" stroke-width="1.3"/>
<line x1="816" y1="552" x2="877" y2="552" stroke="#b5b0b0" stroke-width="1" />
<rect x="1084" y="435" width="68" height="21" rx="1.5" fill="#eceff1" stroke="#6a6262" stroke-width="1.3"/>
<line x1="1086" y1="438" x2="1150" y2="438" stroke="#b5b0b0" stroke-width="1" />
<rect x="1084" y="549" width="68" height="19" rx="1.5" fill="#eceff1" stroke="#6a6262" stroke-width="1.3"/>
<line x1="1086" y1="552" x2="1150" y2="552" stroke="#b5b0b0" stroke-width="1" />
<rect x="823" y="423" width="18" height="157.5" rx="0" fill="none" stroke="#463b38" stroke-width="1.9"/>
<line x1="825.5" y1="426" x2="825.5" y2="577.5" stroke="#c8c2c2" stroke-width="1" />
<rect x="851" y="423" width="19" height="157.5" rx="0" fill="none" stroke="#463b38" stroke-width="1.9"/>
<line x1="853.5" y1="426" x2="853.5" y2="577.5" stroke="#c8c2c2" stroke-width="1" />
<rect x="1092" y="423" width="21" height="157.5" rx="0" fill="none" stroke="#463b38" stroke-width="1.9"/>
<line x1="1094.5" y1="426" x2="1094.5" y2="577.5" stroke="#c8c2c2" stroke-width="1" />
<rect x="1125" y="423" width="19" height="157.5" rx="0" fill="none" stroke="#463b38" stroke-width="1.9"/>
<line x1="1127.5" y1="426" x2="1127.5" y2="577.5" stroke="#c8c2c2" stroke-width="1" />
<line x1="737" y1="978" x2="1241" y2="978" stroke="#463b38" stroke-width="2" />
<line x1="737" y1="1065.7" x2="1241" y2="1065.7" stroke="#463b38" stroke-width="2" />
<line x1="146.5" y1="1030.6" x2="1200.5" y2="1030.6" stroke="#463b38" stroke-width="1.9" />
<ellipse cx="985.5" cy="1019.5" rx="71.5" ry="75" fill="none" stroke="#463b38" stroke-width="2.2"/>
<ellipse cx="985.5" cy="1021" rx="40" ry="40" fill="none" stroke="#463b38" stroke-width="2.0"/>
<rect x="814" y="955" width="65" height="21" rx="1.5" fill="#eceff1" stroke="#6a6262" stroke-width="1.3"/>
<line x1="816" y1="958" x2="877" y2="958" stroke="#b5b0b0" stroke-width="1" />
<rect x="814" y="1074.7" width="65" height="16.799999999999955" rx="1.5" fill="#eceff1" stroke="#6a6262" stroke-width="1.3"/>
<line x1="816" y1="1077.7" x2="877" y2="1077.7" stroke="#b5b0b0" stroke-width="1" />
<rect x="1084" y="955" width="68" height="21" rx="1.5" fill="#eceff1" stroke="#6a6262" stroke-width="1.3"/>
<line x1="1086" y1="958" x2="1150" y2="958" stroke="#b5b0b0" stroke-width="1" />
<rect x="1084" y="1074.7" width="68" height="16.799999999999955" rx="1.5" fill="#eceff1" stroke="#6a6262" stroke-width="1.3"/>
<line x1="1086" y1="1077.7" x2="1150" y2="1077.7" stroke="#b5b0b0" stroke-width="1" />
<rect x="823" y="944.5" width="18" height="157.5" rx="0" fill="none" stroke="#463b38" stroke-width="1.9"/>
<line x1="825.5" y1="947.5" x2="825.5" y2="1099" stroke="#c8c2c2" stroke-width="1" />
<rect x="850" y="944.5" width="19" height="157.5" rx="0" fill="none" stroke="#463b38" stroke-width="1.9"/>
<line x1="852.5" y1="947.5" x2="852.5" y2="1099" stroke="#c8c2c2" stroke-width="1" />
<rect x="1092" y="944.5" width="22" height="157.5" rx="0" fill="none" stroke="#463b38" stroke-width="1.9"/>
<line x1="1094.5" y1="947.5" x2="1094.5" y2="1099" stroke="#c8c2c2" stroke-width="1" />
<rect x="1125" y="944.5" width="19" height="157.5" rx="0" fill="none" stroke="#463b38" stroke-width="1.9"/>
<line x1="1127.5" y1="947.5" x2="1127.5" y2="1099" stroke="#c8c2c2" stroke-width="1" />
<line x1="1446" y1="1493" x2="1446" y2="1515" stroke="#463b38" stroke-width="2" />
<rect x="548" y="1488.5" width="29" height="7.5" rx="0" fill="#1a1414" stroke="#1a1414" stroke-width="1"/>
<rect x="1400" y="1488.5" width="20" height="7.5" rx="0" fill="#1a1414" stroke="#1a1414" stroke-width="1"/>
<rect x="1420" y="1489.5" width="16" height="5.5" rx="0" fill="#9a9090" stroke="#6a6060" stroke-width="1"/>
<circle cx="1001.3" cy="1449.5" r="1.3" fill="#1c1616"/>
<path d="M1004.4 1448.8 L1011.9 1448.8 M1007.2 1448.8 L1007.2 1462 Q1007.5 1468 1012.6 1467.8 L1021.4 1454 L1021.4 1448.8 M1020.3 1448.8 L1033.6 1448.8 M1027 1448.8 L1027 1468" fill="none" stroke="#1c1616" stroke-width="2.3" stroke-linecap="round" stroke-linejoin="round"/>
<line x1="228" y1="1594" x2="1766" y2="1594" stroke="#463b38" stroke-width="2" />
<path d="M305 1590.5 L305 1597.5 L239 1594 Z" fill="#1a1414" stroke="#1a1414" stroke-width="1" />
<rect x="1695" y="1590" width="45" height="8" rx="0" fill="#1a1414" stroke="#1a1414" stroke-width="1"/>
<rect x="1740" y="1591" width="26" height="6" rx="0" fill="#9a9090" stroke="#6a6060" stroke-width="1"/>
<path d="M1009.5 1570 L1009.5 1591.6 M1010.9 1582.6 Q1013 1577 1015 1577.3 Q1018.5 1580 1017.5 1586 L1015.2 1591.6" fill="none" stroke="#1c1616" stroke-width="2.6" stroke-linecap="round" stroke-linejoin="round"/>
<line x1="526.6" y1="1715" x2="526.6" y2="3200" stroke="#463b38" stroke-width="2.1" />
<rect x="257" y="1968" width="526.4" height="66" rx="0" fill="none" stroke="#463b38" stroke-width="2.2"/>
<rect x="262" y="1973" width="516.4" height="56" rx="0" fill="none" stroke="#8d8585" stroke-width="1.2"/>
<line x1="259" y1="2001" x2="781" y2="2001" stroke="#463b38" stroke-width="2.0" />
<line x1="288.4" y1="1933" x2="288.4" y2="2052" stroke="#463b38" stroke-width="2" />
<line x1="755" y1="1939" x2="755" y2="2052" stroke="#463b38" stroke-width="2" />
<path d="M450 1968 L450 1885 L594 1885 L594 1968" fill="none" stroke="#463b38" stroke-width="2" />
<path d="M464.5 1968 L464.5 1903 L580 1903 L580 1968" fill="none" stroke="#463b38" stroke-width="2" />
<line x1="466" y1="1907" x2="578" y2="1907" stroke="#8d8585" stroke-width="1.2" />
<rect x="342.6" y="1887" width="42.39999999999998" height="81" rx="0" fill="none" stroke="#463b38" stroke-width="2"/>
<rect x="345.6" y="1890" width="36.39999999999998" height="75" rx="0" fill="none" stroke="#8d8585" stroke-width="1.2"/>
<rect x="334.7" y="1876" width="54.69999999999999" height="11" rx="0" fill="#e9e6e6" stroke="#4a4040" stroke-width="1.6"/>
<line x1="363" y1="1833" x2="363" y2="2000" stroke="#463b38" stroke-width="1.6" />
<line x1="321.7" y1="2034" x2="321.7" y2="2992" stroke="#463b38" stroke-width="2.0" />
<line x1="731" y1="2034" x2="731" y2="2780" stroke="#463b38" stroke-width="2.0" />
<line x1="321.7" y1="2780" x2="731" y2="2780" stroke="#463b38" stroke-width="2.0" />
<path d="M322 2780 A300 300 0 0 0 731 2780" fill="none" stroke="#463b38" stroke-width="2.1" />
<rect x="494" y="2844" width="39" height="36" rx="0" fill="none" stroke="#463b38" stroke-width="2"/>
<rect x="497" y="2847" width="33" height="30" rx="0" fill="none" stroke="#8d8585" stroke-width="1.2"/>
<rect x="484" y="2880" width="61" height="22" rx="0" fill="none" stroke="#463b38" stroke-width="2"/>
<rect x="487" y="2883" width="55" height="16" rx="0" fill="none" stroke="#8d8585" stroke-width="1.2"/>
<path d="M321.7 2780 Q291 2780 291 2810 L291 2992" fill="none" stroke="#463b38" stroke-width="2" />
<path d="M291 2992 L277 3022 M341.5 3022 L330 2992 M291 2992 L330 2992" fill="none" stroke="#463b38" stroke-width="2" />
<rect x="255" y="3023" width="452" height="24" rx="0" fill="none" stroke="#463b38" stroke-width="2"/>
<line x1="223" y1="3047" x2="1762" y2="3047" stroke="#463b38" stroke-width="2.0" />
<line x1="223" y1="3047" x2="223" y2="3274" stroke="#463b38" stroke-width="2.0" />
<line x1="1762" y1="3047" x2="1762" y2="3274" stroke="#463b38" stroke-width="2.0" />
<line x1="44" y1="3072.5" x2="1997" y2="3072.5" stroke="#463b38" stroke-width="2.0" />
<line x1="54" y1="2003" x2="257" y2="2003" stroke="#463b38" stroke-width="2" />
<line x1="65" y1="2003" x2="65" y2="3072" stroke="#463b38" stroke-width="2.1" />
<path d="M60 2054 L70 2054 L65 2021 Z" fill="#1a1414" stroke="#1a1414" stroke-width="1" />
<path d="M60.5 3024 L69.5 3024 L68.5 3066 L65 3072 L62 3066 Z" fill="#1a1414" stroke="#1a1414" stroke-width="1" />
<line x1="167" y1="2169.4" x2="167" y2="3072" stroke="#463b38" stroke-width="2.0" />
<path d="M163.5 2197 L170.5 2197 L167 2171 Z" fill="#1a1414" stroke="#1a1414" stroke-width="1" />
<rect x="163" y="2673" width="8" height="19" rx="0" fill="#1a1414" stroke="#1a1414" stroke-width="1"/>
<rect x="163" y="2706" width="8" height="16" rx="0" fill="#1a1414" stroke="#1a1414" stroke-width="1"/>
<rect x="163" y="3052" width="8" height="19" rx="0" fill="#1a1414" stroke="#1a1414" stroke-width="1"/>
<rect x="131" y="2908" width="16" height="28" rx="1.5" fill="#e6e2e0" stroke="#4e4440" stroke-width="1.6"/>
<rect x="133" y="2910" width="12" height="4.1599999999998545" rx="0" fill="#8d8480" stroke="#6a5f5a" stroke-width="1"/>
<line x1="136.6" y1="2916.4" x2="136.6" y2="2923.4" stroke="#3a3030" stroke-width="1.4" />
<line x1="140.6" y1="2916.4" x2="139.0" y2="2923.4" stroke="#9a6a60" stroke-width="1.2" />
<rect x="135.8" y="2926.2" width="4.0" height="6.800000000000182" rx="0" fill="#5a5250" stroke="#2a2222" stroke-width="1.2"/>
<rect x="140.92" y="2926.2" width="2.880000000000024" height="6.800000000000182" rx="0" fill="#8a8280" stroke="#2a2222" stroke-width="1.2"/>
<rect x="125" y="2468" width="21.69999999999999" height="28.699999999999818" rx="1" fill="#ddd8d6" stroke="#4e4440" stroke-width="1.8"/>
<rect x="128" y="2471" width="15.699999999999989" height="9.914999999999964" rx="0" fill="#eeeeee" stroke="#7a706b" stroke-width="1"/>
<path d="M129 2488.0899999999997 L135.85 2485.22 L142.7 2483.785 M130 2490.7 L138.01999999999998 2488.6639999999998" fill="none" stroke="#2a2222" stroke-width="1.4" />
<rect x="124" y="2495.2" width="23.69999999999999" height="2.5" rx="0" fill="#5e5450" stroke="#4e4440" stroke-width="1"/>
<rect x="-2" y="2490" width="6" height="12" rx="0" fill="#e0dcdc" stroke="#7a7070" stroke-width="1.2"/>
<line x1="1443" y1="1717" x2="1443" y2="3205" stroke="#463b38" stroke-width="2.0" />
<path d="M1443 1825 L1553 1768.5 L1794 1768.5" fill="none" stroke="#463b38" stroke-width="2" />
<rect x="1621.6" y="1719.2" width="23.100000000000136" height="23.09999999999991" rx="3" fill="#f0f0f0" stroke="#4a4040" stroke-width="1.6"/>
<rect x="1625" y="1722.7" width="18" height="16.0" rx="0" fill="#8c847f" stroke="#4a4040" stroke-width="1"/>
<rect x="1646.7" y="1721" width="36.59999999999991" height="22" rx="0" fill="#f2f2f2" stroke="#4a4040" stroke-width="1.6"/>
<path d="M1649 1726 L1660 1738 M1652 1738 L1662 1724 M1661 1724 L1661 1741" fill="none" stroke="#2a2222" stroke-width="1.5" />
<rect x="1665" y="1723" width="15" height="18" rx="0" fill="#dcdcdc" stroke="#8a8080" stroke-width="1"/>
<rect x="1683" y="1728" width="17" height="12" rx="0" fill="#e8e8e8" stroke="#4a4040" stroke-width="1.4"/>
<line x1="1706" y1="1717.6" x2="1706" y2="1739" stroke="#3a3030" stroke-width="1.8" />
<line x1="1700" y1="1728.6" x2="1717" y2="1728.6" stroke="#3a3030" stroke-width="1.6" />
<line x1="1699" y1="1740.3" x2="1712" y2="1740.3" stroke="#3a3030" stroke-width="1.6" />
<rect x="1183" y="1967" width="526" height="69" rx="0" fill="none" stroke="#463b38" stroke-width="2"/>
<line x1="1188" y1="1971" x2="1188" y2="2032" stroke="#b0aaaa" stroke-width="1" />
<line x1="1704" y1="1971" x2="1704" y2="2032" stroke="#b0aaaa" stroke-width="1" />
<line x1="1188" y1="1971" x2="1704" y2="1971" stroke="#d8cccc" stroke-width="1" />
<line x1="1210" y1="1949" x2="1670" y2="1949" stroke="#eadbd6" stroke-width="1" />
<line x1="1185" y1="2001" x2="1707" y2="2001" stroke="#463b38" stroke-width="2.0" />
<line x1="1209" y1="1945" x2="1209" y2="2054" stroke="#463b38" stroke-width="2" />
<line x1="1671" y1="1946" x2="1671" y2="2054" stroke="#463b38" stroke-width="2" />
<path d="M1371 1967 L1371 1884.5 L1517 1884.5 L1517 1967" fill="none" stroke="#463b38" stroke-width="2" />
<path d="M1384 1967 L1384 1903 L1500 1903 L1500 1967" fill="none" stroke="#463b38" stroke-width="2" />
<line x1="1601" y1="1834" x2="1601" y2="2001" stroke="#463b38" stroke-width="2" />
<rect x="1576" y="1873" width="54" height="15" rx="0" fill="#e0dcdc" stroke="#4a4040" stroke-width="1.6"/>
<line x1="1236.5" y1="2036" x2="1236.5" y2="2781" stroke="#463b38" stroke-width="2" />
<line x1="1644" y1="2036" x2="1644" y2="2990" stroke="#463b38" stroke-width="2" />
<line x1="1236.5" y1="2781" x2="1644" y2="2781" stroke="#463b38" stroke-width="2" />
<path d="M1236.5 2781 C1255 2835 1330 2858.5 1440 2858.5 C1540 2858.5 1612 2838 1644 2781" fill="none" stroke="#463b38" stroke-width="2" />
<line x1="1237" y1="2340.4" x2="1643" y2="2340.4" stroke="#463b38" stroke-width="1.8" />
<line x1="1256" y1="2343.5" x2="1623" y2="2343.5" stroke="#c8b0aa" stroke-width="1" />
<path d="M1238 2340.4 L1256.7 2336 L1256.7 2345 Z" fill="#2a2222" stroke="#2a2222" stroke-width="1" />
<rect x="1623" y="2336.5" width="14.299999999999955" height="8.0" rx="0" fill="#2a2222" stroke="#2a2222" stroke-width="1"/>
<rect x="1435" y="2842" width="38" height="38" rx="0" fill="none" stroke="#463b38" stroke-width="1.6"/>
<rect x="1438" y="2845" width="32" height="32" rx="0" fill="none" stroke="#8d8585" stroke-width="1.2"/>
<rect x="1426" y="2880" width="52" height="22" rx="0" fill="none" stroke="#463b38" stroke-width="1.8"/>
<rect x="1429" y="2883" width="46" height="16" rx="0" fill="none" stroke="#8d8585" stroke-width="1.2"/>
<path d="M1075 2935.5 L1359 2935.5 Q1395 2935.5 1426 2889" fill="none" stroke="#463b38" stroke-width="2" />
<line x1="1478" y1="2902" x2="1997" y2="2902" stroke="#463b38" stroke-width="2" />
<path d="M1644 2781 Q1672 2781 1672 2810 L1672 2990" fill="none" stroke="#463b38" stroke-width="2" />
<path d="M1626 3022 Q1630 2990 1648 2990 L1672 2990 Q1688 2990 1691 3022" fill="none" stroke="#463b38" stroke-width="2" />
<rect x="1260" y="3023" width="450" height="24" rx="0" fill="none" stroke="#463b38" stroke-width="2"/>
<line x1="1972" y1="2905" x2="1972" y2="3069" stroke="#463b38" stroke-width="2" />
<rect x="1929.3" y="2987" width="18.600000000000136" height="35" rx="1.5" fill="#e6e2e0" stroke="#4e4440" stroke-width="1.6"/>
<rect x="1931.3" y="2989" width="14.600000000000136" height="5.699999999999818" rx="0" fill="#8d8480" stroke="#6a5f5a" stroke-width="1"/>
<line x1="1935.81" y1="2997.5" x2="1935.81" y2="3006.25" stroke="#3a3030" stroke-width="1.4" />
<line x1="1940.46" y1="2997.5" x2="1938.6" y2="3006.25" stroke="#9a6a60" stroke-width="1.2" />
<rect x="1934.88" y="3009.75" width="4.649999999999864" height="9.25" rx="0" fill="#5a5250" stroke="#2a2222" stroke-width="1.2"/>
<rect x="1940.832" y="3009.75" width="3.3479999999999563" height="9.25" rx="0" fill="#8a8280" stroke="#2a2222" stroke-width="1.2"/>
<rect x="1167" y="2889" width="24" height="25.5" rx="3" fill="#b0a6a2" stroke="#3a3030" stroke-width="1.8"/>
<line x1="1172" y1="2891" x2="1172" y2="2913" stroke="#3a3030" stroke-width="1.2" />
<line x1="1176" y1="2891" x2="1176" y2="2913" stroke="#3a3030" stroke-width="1.2" />
<line x1="1181" y1="2891" x2="1181" y2="2913" stroke="#3a3030" stroke-width="1.2" />
<line x1="1186" y1="2891" x2="1186" y2="2913" stroke="#3a3030" stroke-width="1.2" />
<line x1="1164" y1="2901" x2="1167" y2="2901" stroke="#3a3030" stroke-width="1.5" />
<path d="M1199 2891 L1203 2891 L1201 2915 L1197.5 2915 Z" fill="#d0c8c5" stroke="#3a3030" stroke-width="1.6" />
<circle cx="1207" cy="2901" r="2" fill="none" stroke="#3a3030" stroke-width="1.4"/>
<rect x="1212" y="2888.5" width="5.7999999999999545" height="26.5" rx="1" fill="#c8bfbb" stroke="#3a3030" stroke-width="1.6"/>
<line x1="1218" y1="2898.5" x2="1225" y2="2898.5" stroke="#6a6060" stroke-width="1.2" />
<line x1="1218" y1="2904.5" x2="1225" y2="2904.5" stroke="#6a6060" stroke-width="1.2" />
<rect x="1228" y="2890.5" width="19" height="22.5" rx="5" fill="#f4f4f4" stroke="#3a3030" stroke-width="1.8"/>
<rect x="1231" y="2893.5" width="13" height="16.5" rx="3" fill="none" stroke="#8a8080" stroke-width="1"/>
<line x1="1247.7" y1="2890" x2="1247.7" y2="2915" stroke="#3a3030" stroke-width="2" />
<rect x="819.8" y="2090" width="14.600000000000023" height="10" rx="0" fill="#e9e9e9" stroke="#9a9090" stroke-width="1.2"/>
<rect x="848.5" y="2090" width="15.200000000000045" height="10" rx="0" fill="#e9e9e9" stroke="#9a9090" stroke-width="1.2"/>
<rect x="1089" y="2090" width="17.59999999999991" height="10" rx="0" fill="#e9e9e9" stroke="#9a9090" stroke-width="1.2"/>
<rect x="1121" y="2090" width="16" height="10" rx="0" fill="#e9e9e9" stroke="#9a9090" stroke-width="1.2"/>
<line x1="980.7" y1="1969" x2="980.7" y2="2888" stroke="#463b38" stroke-width="2.0" />
<line x1="730.5" y1="2133" x2="1236.6" y2="2133" stroke="#463b38" stroke-width="2" />
<line x1="730.5" y1="2214" x2="1236.6" y2="2214" stroke="#463b38" stroke-width="2" />
<line x1="148" y1="2169.4" x2="1187" y2="2169.4" stroke="#463b38" stroke-width="1.9" />
<ellipse cx="980.4" cy="2169.4" rx="72" ry="72" fill="none" stroke="#463b38" stroke-width="2.2"/>
<ellipse cx="980.4" cy="2169.4" rx="38" ry="38" fill="none" stroke="#463b38" stroke-width="2.0"/>
<rect x="808" y="2110" width="67" height="18.5" rx="1.5" fill="#eceff1" stroke="#6a6262" stroke-width="1.3"/>
<line x1="810" y1="2113" x2="873" y2="2113" stroke="#b5b0b0" stroke-width="1" />
<rect x="808" y="2220.7" width="67" height="17.5" rx="1.5" fill="#eceff1" stroke="#6a6262" stroke-width="1.3"/>
<line x1="810" y1="2223.7" x2="873" y2="2223.7" stroke="#b5b0b0" stroke-width="1" />
<rect x="1077" y="2110" width="72" height="18.5" rx="1.5" fill="#eceff1" stroke="#6a6262" stroke-width="1.3"/>
<line x1="1079" y1="2113" x2="1147" y2="2113" stroke="#b5b0b0" stroke-width="1" />
<rect x="1077" y="2220.7" width="72" height="17.5" rx="1.5" fill="#eceff1" stroke="#6a6262" stroke-width="1.3"/>
<line x1="1079" y1="2223.7" x2="1147" y2="2223.7" stroke="#b5b0b0" stroke-width="1" />
<rect x="816.4" y="2100" width="18.200000000000045" height="148" rx="0" fill="none" stroke="#463b38" stroke-width="1.9"/>
<line x1="818.9" y1="2103" x2="818.9" y2="2245" stroke="#c8c2c2" stroke-width="1" />
<rect x="845" y="2100" width="19.700000000000045" height="148" rx="0" fill="none" stroke="#463b38" stroke-width="1.9"/>
<line x1="847.5" y1="2103" x2="847.5" y2="2245" stroke="#c8c2c2" stroke-width="1" />
<rect x="1086" y="2100" width="25" height="148" rx="0" fill="none" stroke="#463b38" stroke-width="1.9"/>
<line x1="1088.5" y1="2103" x2="1088.5" y2="2245" stroke="#c8c2c2" stroke-width="1" />
<rect x="1120" y="2100" width="19" height="148" rx="0" fill="none" stroke="#463b38" stroke-width="1.9"/>
<line x1="1122.5" y1="2103" x2="1122.5" y2="2245" stroke="#c8c2c2" stroke-width="1" />
<line x1="730.5" y1="2655.3" x2="1236.6" y2="2655.3" stroke="#463b38" stroke-width="2" />
<line x1="730.5" y1="2734.5" x2="1236.6" y2="2734.5" stroke="#463b38" stroke-width="2" />
<line x1="141" y1="2698.4" x2="1189" y2="2698.4" stroke="#463b38" stroke-width="1.9" />
<ellipse cx="980" cy="2689" rx="73" ry="75.3" fill="none" stroke="#463b38" stroke-width="2.2"/>
<ellipse cx="980" cy="2692.8" rx="38" ry="38" fill="none" stroke="#463b38" stroke-width="2.0"/>
<rect x="808" y="2625.5" width="66" height="21.5" rx="1.5" fill="#eceff1" stroke="#6a6262" stroke-width="1.3"/>
<line x1="810" y1="2628.5" x2="872" y2="2628.5" stroke="#b5b0b0" stroke-width="1" />
<rect x="808" y="2741" width="66" height="18.40000000000009" rx="1.5" fill="#eceff1" stroke="#6a6262" stroke-width="1.3"/>
<line x1="810" y1="2744" x2="872" y2="2744" stroke="#b5b0b0" stroke-width="1" />
<rect x="1077" y="2625.5" width="72" height="21.5" rx="1.5" fill="#eceff1" stroke="#6a6262" stroke-width="1.3"/>
<line x1="1079" y1="2628.5" x2="1147" y2="2628.5" stroke="#b5b0b0" stroke-width="1" />
<rect x="1077" y="2741" width="72" height="18.40000000000009" rx="1.5" fill="#eceff1" stroke="#6a6262" stroke-width="1.3"/>
<line x1="1079" y1="2744" x2="1147" y2="2744" stroke="#b5b0b0" stroke-width="1" />
<rect x="817" y="2613.6" width="17.600000000000023" height="155.4000000000001" rx="0" fill="none" stroke="#463b38" stroke-width="1.9"/>
<line x1="819.5" y1="2616.6" x2="819.5" y2="2766" stroke="#c8c2c2" stroke-width="1" />
<rect x="845" y="2613.6" width="19.700000000000045" height="155.4000000000001" rx="0" fill="none" stroke="#463b38" stroke-width="1.9"/>
<line x1="847.5" y1="2616.6" x2="847.5" y2="2766" stroke="#c8c2c2" stroke-width="1" />
<rect x="1087.8" y="2613.6" width="21.200000000000045" height="155.4000000000001" rx="0" fill="none" stroke="#463b38" stroke-width="1.9"/>
<line x1="1090.3" y1="2616.6" x2="1090.3" y2="2766" stroke="#c8c2c2" stroke-width="1" />
<rect x="1120" y="2613.6" width="19.5" height="155.4000000000001" rx="0" fill="none" stroke="#463b38" stroke-width="1.9"/>
<line x1="1122.5" y1="2616.6" x2="1122.5" y2="2766" stroke="#c8c2c2" stroke-width="1" />
<path d="M539 3163 L570 3159.5 L570 3166.5 Z" fill="#1a1414" stroke="#1a1414" stroke-width="1" />
<rect x="1391" y="3159.5" width="19" height="7.0" rx="0" fill="#1a1414" stroke="#1a1414" stroke-width="1"/>
<rect x="1410" y="3160.5" width="31" height="5.0" rx="0" fill="#9a9090" stroke="#6a6060" stroke-width="1"/>
<line x1="528" y1="3163" x2="1443" y2="3163" stroke="#463b38" stroke-width="2" />
<path d="M1001.3 3113 L1001.3 3135.7 M1001.5 3128 Q1006 3124 1008 3128 Q1009 3136 1004 3137 M1015 3114 L1020.4 3114 L1020.4 3134 Q1020 3138 1016 3136" fill="none" stroke="#1c1616" stroke-width="2.1" stroke-linecap="round" stroke-linejoin="round"/>
<line x1="223" y1="3264" x2="1762" y2="3264" stroke="#463b38" stroke-width="2.0" />
<path d="M293.5 3260 L293.5 3268 L231 3264 Z" fill="#1a1414" stroke="#1a1414" stroke-width="1" />
<path d="M1688 3260 L1688 3268 L1751 3264 Z" fill="#1a1414" stroke="#1a1414" stroke-width="1" />
<path d="M1005 3237 L1005 3262 L1018.7 3262" fill="none" stroke="#1c1616" stroke-width="2.6" stroke-linecap="round" stroke-linejoin="round"/>
<path d="M1005 3253 L1018.5 3253 L1018.5 3262" fill="none" stroke="#8a8080" stroke-width="1" />
</svg>
</body></html>
